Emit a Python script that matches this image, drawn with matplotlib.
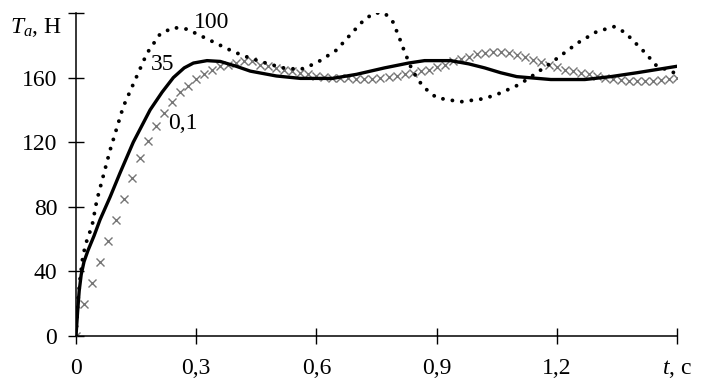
import numpy as np
import matplotlib
matplotlib.use('Agg')
import matplotlib.pyplot as plt

plt.rcParams.update({'font.family': 'Liberation Serif', 'font.size': 17,
                     'mathtext.fontset': 'custom', 'mathtext.rm': 'Liberation Serif',
                     'mathtext.it': 'Liberation Serif:italic'})

# curve "35" (solid)
t35 = [0, 0.004, 0.008, 0.013, 0.02, 0.03, 0.045, 0.06, 0.085, 0.11, 0.143, 0.185, 0.215,
       0.243, 0.27, 0.293, 0.327, 0.36, 0.40, 0.435, 0.5, 0.56, 0.64, 0.70, 0.77, 0.83,
       0.87, 0.935, 0.98, 1.02, 1.06, 1.10, 1.185, 1.27, 1.335, 1.40, 1.45, 1.50]
T35 = [0, 15, 28, 38, 46, 53, 62, 72, 86, 101, 120, 140, 151,
       160, 166, 169, 170.5, 170, 167, 164, 161, 159.5, 159.5, 162, 166, 169,
       170.5, 170.5, 168.5, 166, 163, 160.6, 158.8, 158.8, 160.6, 163, 165, 167]

# curve "100" (dotted)
t100 = [0, 0.005, 0.01, 0.0175, 0.028, 0.04, 0.052, 0.085, 0.118, 0.152, 0.177, 0.21, 0.243,
        0.277, 0.327, 0.393, 0.435, 0.48, 0.518, 0.56, 0.60, 0.65, 0.69, 0.72, 0.745, 0.77,
        0.79, 0.805, 0.82, 0.835, 0.85, 0.868, 0.90, 0.96, 1.02, 1.06, 1.10, 1.127, 1.185,
        1.2525, 1.30, 1.343, 1.37, 1.42, 1.45, 1.485, 1.50]
T100 = [0, 22, 35, 50, 60, 68, 84, 115, 142, 161, 175, 187, 191,
        190, 184, 176, 172, 168.5, 166, 165, 169, 177, 188, 196, 200, 200,
        195, 186, 176, 167, 160, 154, 147.5, 145, 147, 150.5, 155, 159, 169,
        181.5, 188.5, 191.5, 188, 175.5, 167, 164, 162]

# curve "0,1" (crosses, every 0.02 s)
t01 = [round(0.02 * i, 2) for i in range(76)]
T01 = [0, 20, 33, 46, 59, 72, 85, 98, 110, 121,
       130, 138, 145, 151, 155, 159, 162, 165, 167, 168,
       169, 170, 170, 168, 167, 166, 165, 164, 163, 162,
       161, 160.6, 160, 160, 159.6, 159.4, 159.4, 159.4, 159.8, 160.4,
       161, 162, 163, 164, 165, 166.5, 168, 170, 171.5, 173,
       174.5, 175.5, 176, 176, 175, 174, 172.5, 171, 169.5, 168,
       166.5, 165, 164, 163, 162, 161, 160, 159, 158.5, 158,
       158, 158, 158, 158.5, 159, 160]

xticks = [0, 0.3, 0.6, 0.9, 1.2, 1.5]
xlabels = ['0', '0,3', '0,6', '0,9', '1,2', '$t$, c']
yticks = [0, 40, 80, 120, 160, 200]
ylabels = ['0', '40', '80', '120', '160', '']

fig = plt.figure(figsize=(7.03, 3.90), dpi=100)
ax = fig.add_axes([0.1081, 0.1385, 0.8549, 0.8282])

ax.plot(t01, T01, ls='none', marker='x', ms=5.5, mew=1.0, color='#767676')
ax.plot(t35, T35, color='black', lw=2.4, solid_capstyle='round', solid_joinstyle='round')
ax.plot(t100, T100, color='black', lw=2.8, ls=(0, (0.01, 2.45)), dash_capstyle='round')

ax.set_xlim(0, 1.5)
ax.set_ylim(0, 200)
ax.set_xticks(xticks)
ax.set_xticklabels(xlabels)
ax.set_yticks(yticks)
ax.set_yticklabels(ylabels)
ax.tick_params(direction='inout', length=11, width=1.0, color='black')
ax.tick_params(axis='x', pad=10)
ax.tick_params(axis='y', pad=8)
for s in ['top', 'right']:
    ax.spines[s].set_visible(False)
for s in ['left', 'bottom']:
    ax.spines[s].set_linewidth(1.1)

ax.text(-0.1, 191, '$T_a$, H', ha='center', va='center', clip_on=False)
ax.text(0.3375, 194, '100', ha='center', va='center')
ax.text(0.215, 168, '35', ha='center', va='center')
ax.text(0.2675, 131.5, '0,1', ha='center', va='center')

fig.savefig('out.png', dpi=100)
